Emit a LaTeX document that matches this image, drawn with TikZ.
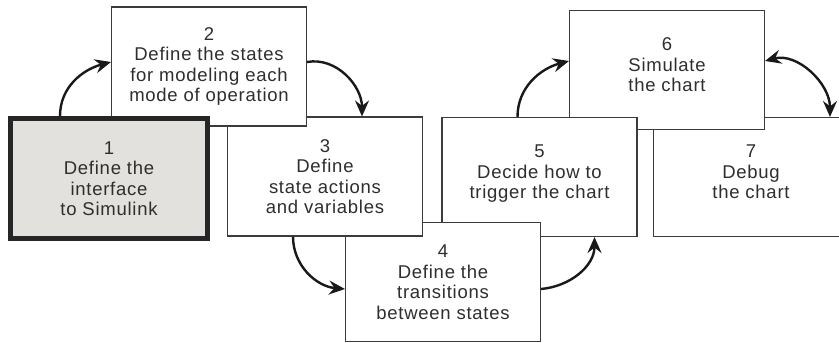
\documentclass[tikz,border=0pt]{standalone}
\usepackage{fontspec}
\setmainfont{Liberation Sans}[LetterSpace=4]
\usepackage{xcolor}
\usetikzlibrary{arrows, arrows.meta, positioning}

\definecolor{boxline}{HTML}{3C3C3C}
\definecolor{boxgray}{HTML}{E3E1DE}
\definecolor{textgray}{HTML}{2E2E2E}

\tikzset{
	stage/.style={rectangle, draw=boxline, line width=1.1pt, fill=white,
		minimum width=195pt, minimum height=119pt, inner sep=0pt,
		align=center, text=textgray, font=\fontsize{18.5}{20.5}\selectfont},
	firststage/.style={stage, draw=black!85, line width=5pt, fill=boxgray,
		minimum width=197pt, minimum height=120pt},
	shortstage/.style={stage, text depth=10pt},
	tip/.tip={Stealth[length=16pt,width=14pt,inset=5.5pt]},
	flow/.style={line width=2.4pt, draw=black!90, -tip},
}

\begin{document}
\begin{tikzpicture}[x=1pt, y=1pt]
	\useasboundingbox (0,0) rectangle (839,343);
	% drawn back to front, step 1 ends on top
	\node[shortstage] (s7) at (751,166) {7\\Debug\\the chart};
	\node[shortstage] (s6) at (667,273) {6\\Simulate\\the chart};
	\node[shortstage] (s5) at (539.5,166) {5\\Decide how to\\trigger the chart};
	\node[stage] (s4) at (443,61) {4\\Define the\\transitions\\between states};
	\node[stage] (s3) at (325,166.5) {3\\Define\\state actions\\and variables};
	\node[stage] (s2) at (209,276.5) {2\\Define the states\\for modeling each\\mode of operation};
	\node[firststage] (s1) at (109,164.5) {1\\Define the\\interface\\to Simulink};

	\draw [flow] ([xshift=-49pt]s1.north) to[out=90, in=195] ([yshift=4.5pt]s2.west);
	\draw [flow] ([yshift=4.5pt]s2.east) to[out=10, in=90] ([xshift=37pt]s3.north);
	\draw [flow] ([xshift=-32pt]s3.south) to[out=-90, in=175] ([yshift=-7pt]s4.west);
	\draw [flow] ([yshift=-7pt]s4.east) to[out=5, in=-90] ([xshift=55pt]s5.south);
	\draw [flow] ([xshift=-22pt]s5.north) to[out=90, in=195] ([yshift=9pt]s6.west);
	\draw [flow, tip-tip] ([yshift=9pt]s6.east) to[out=15, in=90] ([xshift=79pt]s7.north);
\end{tikzpicture}
\end{document}
